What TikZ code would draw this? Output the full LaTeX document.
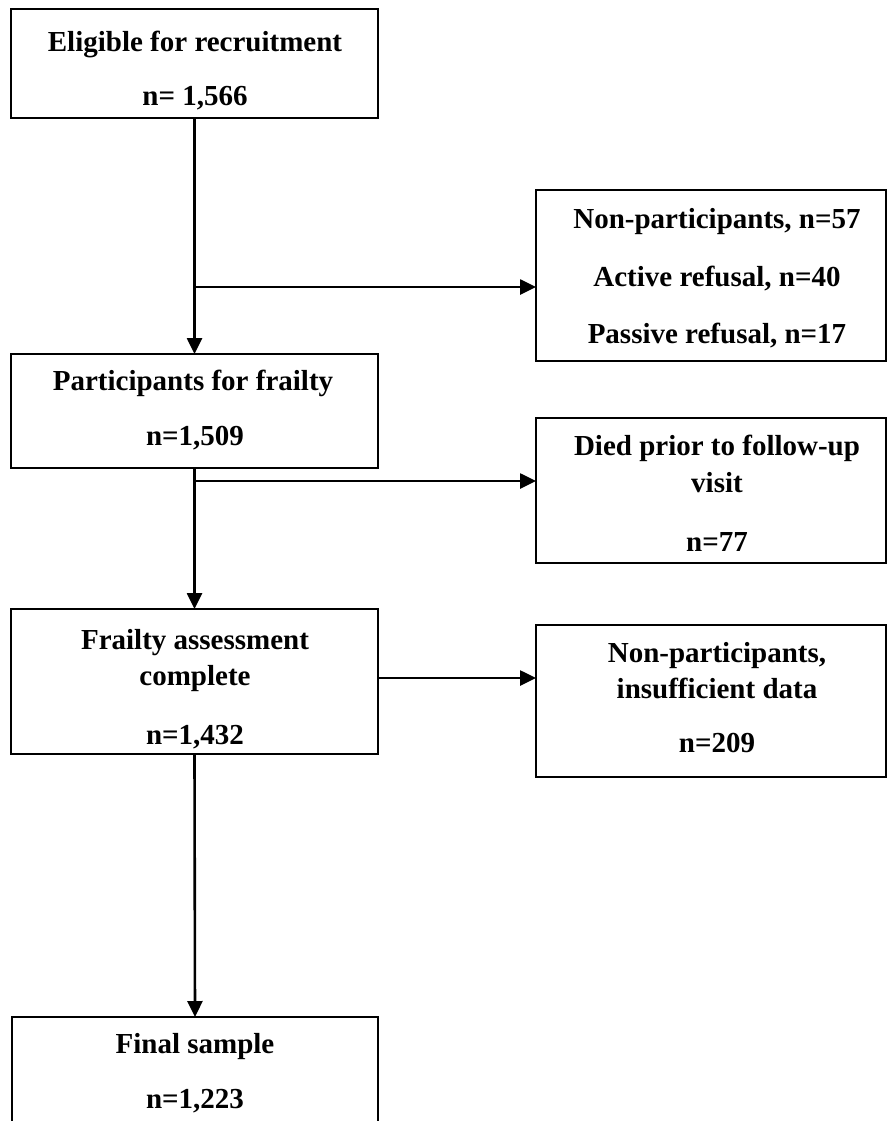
\documentclass[tikz,border=0pt]{standalone}
\usepackage{fontspec}
\setmainfont{Liberation Serif}
\usetikzlibrary{arrows.meta}
\begin{document}
\begin{tikzpicture}[x=1pt,y=1pt,
  box/.style={draw=black, line width=2pt, rectangle, inner sep=0pt, outer sep=0pt, anchor=north west},
  lbl/.style={font=\bfseries\fontsize{29}{34}\selectfont, inner sep=0pt, anchor=base},
  arr/.style={line width=2.6pt, -{Triangle[length=16pt,width=15pt]}}]
\clip (0,0) rectangle (888,-1121);
\fill[white] (0,0) rectangle (888,-1121);
% left boxes
\node[box, minimum width=367pt, minimum height=109pt] (b1) at (11,-9) {};
\node[box, minimum width=367pt, minimum height=114pt] (b2) at (11,-354) {};
\node[box, minimum width=367pt, minimum height=145pt] (b3) at (11,-609) {};
\node[box, minimum width=366pt, minimum height=140pt] (b4) at (12,-1017) {};
% right boxes
\node[box, minimum width=350pt, minimum height=171pt] (r1) at (536,-190) {};
\node[box, minimum width=350pt, minimum height=145pt] (r2) at (536,-418) {};
\node[box, minimum width=350pt, minimum height=152pt] (r3) at (536,-625) {};
% texts
\node[lbl] (t1a) at (195,-52) {Eligible for recruitment};
\node[lbl] (t1b) at (195,-106) {n= 1,566};
\node[lbl] (t2a) at (193,-390) {Participants for frailty};
\node[lbl] (t2b) at (195,-445) {n=1,509};
\node[lbl] (t3a) at (195,-649) {Frailty assessment};
\node[lbl] (t3b) at (195,-685) {complete};
\node[lbl] (t3c) at (195,-744) {n=1,432};
\node[lbl] (t4a) at (195,-1053) {Final sample};
\node[lbl] (t4b) at (195,-1108) {n=1,223};
\node[lbl] (u1a) at (717,-228) {Non-participants, n=57};
\node[lbl] (u1b) at (717,-286) {Active refusal, n=40};
\node[lbl] (u1c) at (717,-343) {Passive refusal, n=17};
\node[lbl] (u2a) at (717,-455) {Died prior to follow-up};
\node[lbl] (u2b) at (717,-492) {visit};
\node[lbl] (u2c) at (717,-551) {n=77};
\node[lbl] (u3a) at (717,-662) {Non-participants,};
\node[lbl] (u3b) at (717,-698) {insufficient data};
\node[lbl] (u3c) at (717,-752) {n=209};
% connectors
\coordinate (j1) at (b1.south |- 0,-287);
\coordinate (j2) at (b2.south |- 0,-481);
\coordinate (j3) at (b3.east |- 0,-678);
\draw[arr] (b1.south) -- (b2.north);
\draw[arr] (j1) -- (j1 -| r1.west);
\draw[arr] (b2.south) -- (b3.north);
\draw[arr] (j2) -- (j2 -| r2.west);
\draw[arr] (j3) -- (j3 -| r3.west);
\draw[arr] (b3.south) -- (b4.north);
\end{tikzpicture}
\end{document}
